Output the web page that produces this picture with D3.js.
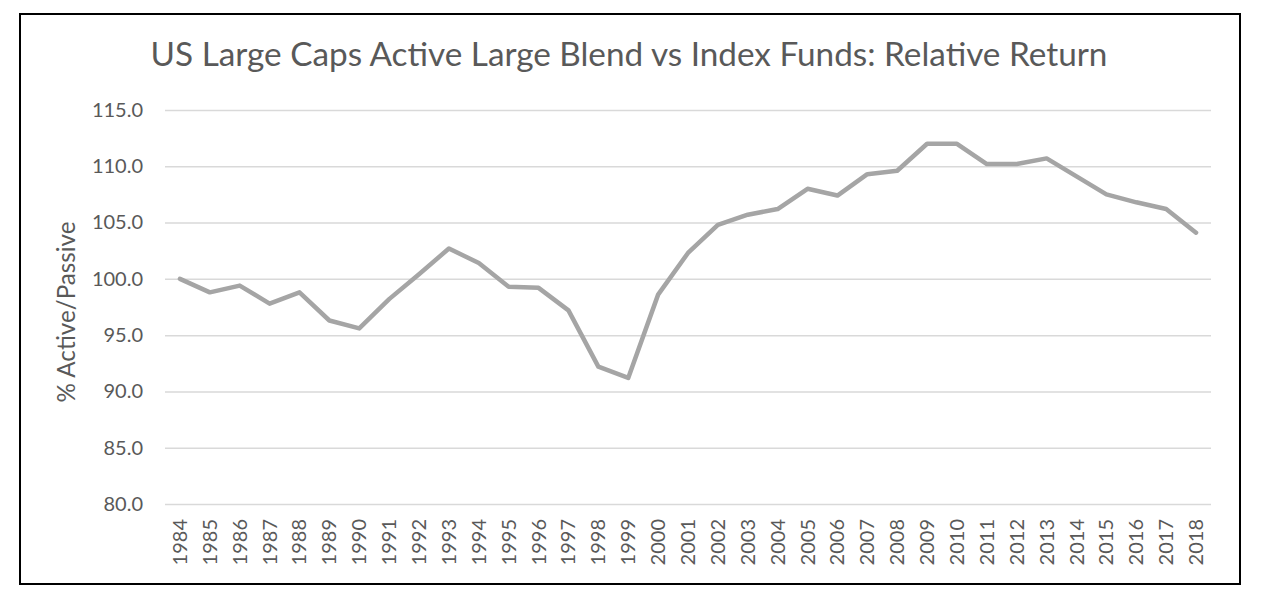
<!DOCTYPE html>
<html>
<head>
<meta charset="utf-8">
<script src="https://cdn.jsdelivr.net/npm/d3@7"></script>
<style>
  html, body { margin: 0; padding: 0; background: #fff; }
  svg { display: block; }
  text { font-family: Lato, "Open Sans", sans-serif; fill: #595959; }
</style>
</head>
<body>
<svg id="chart" width="1264" height="604"></svg>
<script>
const titleText = "US Large Caps Active Large Blend vs Index Funds: Relative Return";
const yAxisLabel = "% Active/Passive";
const years = ["1984","1985","1986","1987","1988","1989","1990","1991","1992","1993",
  "1994","1995","1996","1997","1998","1999","2000","2001","2002","2003",
  "2004","2005","2006","2007","2008","2009","2010","2011","2012","2013",
  "2014","2015","2016","2017","2018"];
const relativeReturn = [100.0, 98.8, 99.4, 97.8, 98.8, 96.3, 95.6, 98.2, 100.4, 102.7,
  101.4, 99.3, 99.2, 97.2, 92.2, 91.2, 98.6, 102.3, 104.8, 105.7,
  106.2, 108.0, 107.4, 109.3, 109.6, 112.0, 112.0, 110.2, 110.2, 110.7,
  109.1, 107.5, 106.8, 106.2, 104.1];
const yTicks = [80, 85, 90, 95, 100, 105, 110, 115];

const svg = d3.select("#chart");

// outer border
svg.append("rect")
  .attr("x", 20).attr("y", 14).attr("width", 1220).attr("height", 570)
  .attr("fill", "#fff").attr("stroke", "#000").attr("stroke-width", 2);

const plot = { left: 165, right: 1211, top: 110, bottom: 504 };

const x = d3.scaleBand().domain(years).range([plot.left, plot.right]);
const y = d3.scaleLinear().domain([80, 115]).range([plot.bottom, plot.top]);

// gridlines + y tick labels
const gAxisY = svg.append("g")
  .attr("transform", `translate(${plot.left},0)`)
  .call(d3.axisLeft(y).tickValues(yTicks).tickSize(-(plot.right - plot.left)).tickPadding(22)
    .tickFormat(d3.format(".1f")));
gAxisY.select(".domain").remove();
gAxisY.selectAll(".tick line").attr("stroke", "#d9d9d9").attr("stroke-width", 1.5);
gAxisY.selectAll(".tick text").attr("font-size", 20).style("fill", "#595959")
  .attr("font-family", "Lato, sans-serif");

// x axis labels
const gAxisX = svg.append("g")
  .attr("transform", `translate(0,${plot.bottom})`)
  .call(d3.axisBottom(x).tickSize(0).tickPadding(0));
gAxisX.select(".domain").remove();
gAxisX.selectAll(".tick text")
  .attr("font-size", 20).style("fill", "#595959")
  .attr("font-family", "Lato, sans-serif")
  .attr("text-anchor", "end")
  .attr("dy", "0.35em")
  .attr("transform", "translate(0,15) rotate(-90)");

// line
const line = d3.line()
  .x((d, i) => x(years[i]) + x.bandwidth() / 2)
  .y(d => y(d));
svg.append("path")
  .datum(relativeReturn)
  .attr("d", line)
  .attr("fill", "none")
  .attr("stroke", "#a5a5a5")
  .attr("stroke-width", 4.5)
  .attr("stroke-linejoin", "round")
  .attr("stroke-linecap", "round");

// title
const title = svg.append("text")
  .attr("x", 629).attr("y", 66)
  .attr("text-anchor", "middle")
  .attr("font-size", 30)
  .text(titleText);
const tw = title.node().getComputedTextLength();
title.attr("font-size", 30 * 957 / tw);

// y label
const yl = svg.append("text")
  .attr("transform", "translate(75,312) rotate(-90)")
  .attr("text-anchor", "middle")
  .attr("font-size", 20)
  .text(yAxisLabel);
const yw = yl.node().getComputedTextLength();
yl.attr("font-size", 20 * 181 / yw);
</script>
</body>
</html>
